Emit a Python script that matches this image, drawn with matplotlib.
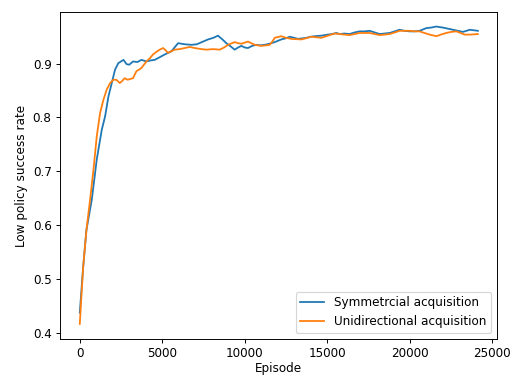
import matplotlib
matplotlib.use("Agg")
import matplotlib.pyplot as plt

# values (episode, success rate)
sym_ep = [0, 200, 400, 727, 1030, 1333, 1535, 1737, 1940, 2140, 2340, 2650, 2840, 3000,
          3230, 3500, 3740, 4040, 4300, 4545, 4850, 5150, 5560, 5960, 6370, 6770, 7100,
          7475, 7780, 8100, 8380, 8650, 8890, 9150, 9390, 9600, 9800, 10000, 10200, 10450,
          10710, 10950, 11210, 11500, 11820, 12220, 12480, 12730, 13000, 13230, 13500,
          13740, 14000, 14240, 14650, 15050, 15300, 15560, 15760, 16050, 16360, 16670,
          16970, 17280, 17580, 17880, 18180, 18480, 18790, 19100, 19390, 19700, 20000,
          20300, 20600, 21010, 21300, 21620, 22020, 22330, 22630, 22930, 23230, 23450,
          23640, 23900, 24140]
sym_rate = [0.437, 0.52, 0.59, 0.647, 0.722, 0.777, 0.802, 0.839, 0.864, 0.889, 0.901,
            0.907, 0.899, 0.898, 0.904, 0.903, 0.907, 0.904, 0.906, 0.907, 0.912, 0.917,
            0.923, 0.938, 0.936, 0.935, 0.936, 0.941, 0.945, 0.948, 0.952, 0.945, 0.938,
            0.932, 0.926, 0.930, 0.933, 0.930, 0.929, 0.933, 0.935, 0.934, 0.935, 0.937,
            0.940, 0.945, 0.947, 0.950, 0.948, 0.946, 0.947, 0.948, 0.950, 0.951, 0.952,
            0.954, 0.955, 0.957, 0.955, 0.956, 0.955, 0.958, 0.960, 0.960, 0.961, 0.958,
            0.955, 0.956, 0.957, 0.960, 0.963, 0.961, 0.960, 0.960, 0.961, 0.966, 0.967,
            0.969, 0.967, 0.965, 0.963, 0.961, 0.959, 0.961, 0.963, 0.962, 0.961]

uni_ep = [0, 200, 400, 625, 830, 1030, 1230, 1435, 1636, 1840, 2040, 2220, 2424, 2545,
          2727, 2900, 3230, 3435, 3600, 3740, 4040, 4250, 4440, 4650, 4850, 5050, 5200,
          5350, 5550, 5760, 6060, 6360, 6670, 6970, 7370, 7680, 8080, 8480, 8750, 8990,
          9390, 9600, 9800, 10200, 10400, 10610, 11010, 11300, 11520, 11700, 11820, 12220,
          12500, 12830, 13430, 13700, 14040, 14350, 14650, 15050, 15450, 15760, 16050,
          16360, 16670, 16970, 17280, 17580, 17880, 18180, 18480, 18790, 19100, 19390,
          19700, 20000, 20300, 20600, 20900, 21210, 21620, 21900, 22220, 22530, 22830,
          23100, 23330, 23700, 24140]
uni_rate = [0.416, 0.52, 0.59, 0.647, 0.703, 0.765, 0.808, 0.833, 0.852, 0.864, 0.870,
            0.870, 0.864, 0.867, 0.873, 0.870, 0.873, 0.886, 0.889, 0.892, 0.904, 0.910,
            0.917, 0.922, 0.926, 0.929, 0.925, 0.920, 0.923, 0.926, 0.927, 0.929, 0.931,
            0.929, 0.927, 0.926, 0.927, 0.926, 0.930, 0.935, 0.940, 0.938, 0.937, 0.941,
            0.938, 0.935, 0.933, 0.934, 0.935, 0.942, 0.948, 0.951, 0.948, 0.946, 0.945,
            0.947, 0.950, 0.949, 0.948, 0.952, 0.956, 0.955, 0.954, 0.953, 0.955, 0.957,
            0.957, 0.957, 0.955, 0.953, 0.954, 0.955, 0.958, 0.961, 0.961, 0.961, 0.960,
            0.960, 0.957, 0.954, 0.951, 0.954, 0.957, 0.959, 0.960, 0.957, 0.954, 0.954,
            0.955]

fig = plt.figure(figsize=(513 / 86, 375 / 86), dpi=86)
ax = fig.add_axes([60 / 513, 36 / 375, 437 / 513, 327 / 375])

ax.plot(sym_ep, sym_rate, color="tab:blue", label="Symmetrcial acquisition")
ax.plot(uni_ep, uni_rate, color="tab:orange", label="Unidirectional acquisition")

ax.set_xlim(-1200, 25300)
ax.set_ylim(0.388, 0.996)
ax.set_xlabel("Episode", labelpad=1.5)
ax.set_ylabel("Low policy success rate")
ax.legend(loc="lower right")

fig.savefig("out.png", dpi=86)
